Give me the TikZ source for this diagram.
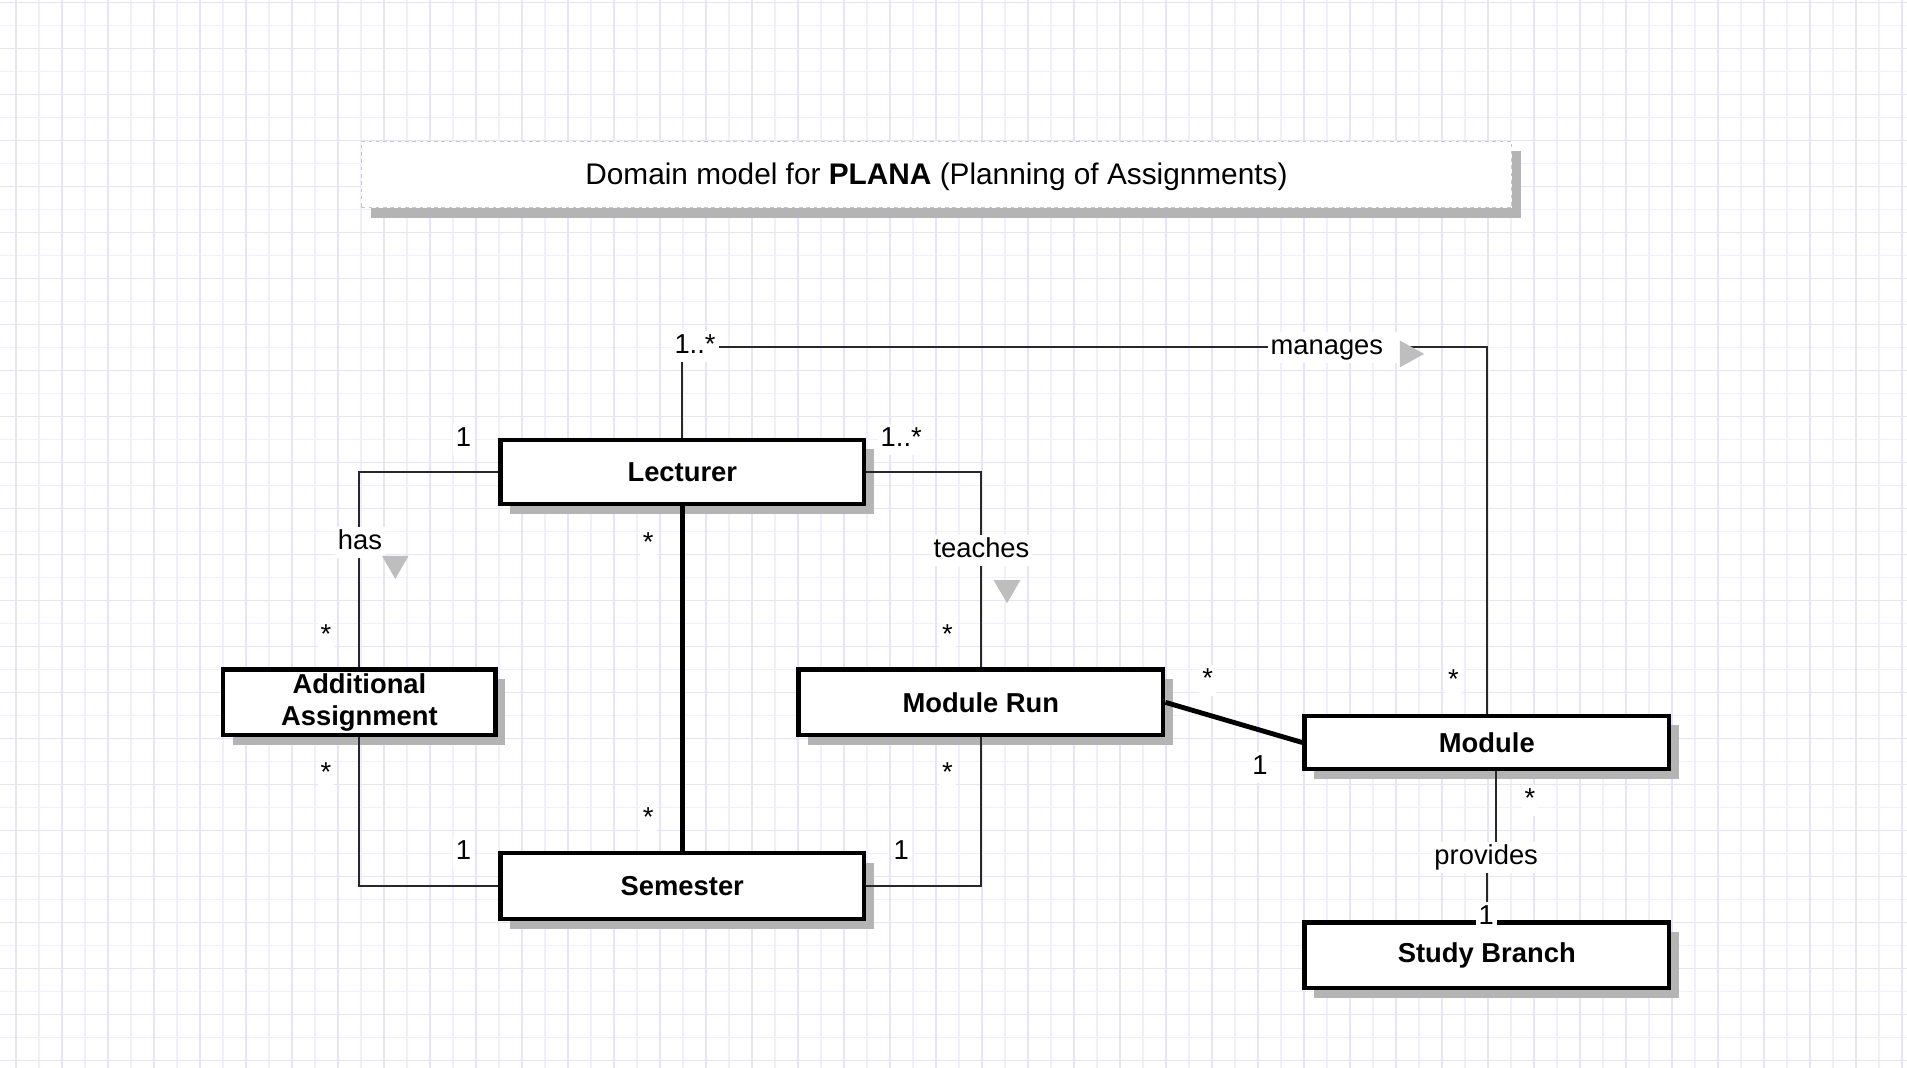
\documentclass[tikz,border=0pt]{standalone}
\usepackage{fontspec}
\setmainfont{Liberation Sans}
\usetikzlibrary{shadows}
\definecolor{gmaj}{RGB}{228,228,250}
\definecolor{gmin}{RGB}{239,239,253}
\definecolor{shd}{RGB}{180,180,180}
\definecolor{tri}{RGB}{190,190,190}
\definecolor{ln}{RGB}{40,40,40}
\begin{document}
\begin{tikzpicture}[x=1pt,y=-1pt,
  cls/.style={draw=black, line width=3.5pt, fill=white, inner sep=0pt, align=center,
    font=\fontsize{22.5}{26}\selectfont\bfseries,
    drop shadow={shadow xshift=8pt, shadow yshift=-8pt, fill=shd, opacity=1}},
  titlebox/.style={draw=black!22, dash pattern=on 3pt off 3pt, line width=0.8pt, fill=white,
    minimum width=946pt, minimum height=55pt, inner sep=0pt,
    text height=18pt, text depth=1.4pt,
    font=\fontsize{24.5}{28}\selectfont,
    drop shadow={shadow xshift=8pt, shadow yshift=-8pt, fill=shd, opacity=1}},
  assoc/.style={draw=ln, line width=1.6pt},
  strongassoc/.style={draw=black, line width=4pt},
  lbl/.style={fill=white, inner sep=2.5pt, text height=16pt, text depth=4.5pt,
    font=\fontsize{22.5}{26}\selectfont},
  gridmaj/.style={draw=gmaj, line width=1.3pt},
  gridmin/.style={draw=gmin, line width=1pt},
  dirtri/.style={fill=tri}
]
\useasboundingbox (0,0) rectangle (1568,878);
\fill[white] (0,0) rectangle (1568,878);
% grid
\foreach \i in {0,...,41} {
  \draw[gridmin] ({13.16+18.91+\i*37.82},0) -- ({13.16+18.91+\i*37.82},878);
}
\foreach \i in {0,...,23} {
  \draw[gridmin] (0,{2.2+18.91+\i*37.82}) -- (1568,{2.2+18.91+\i*37.82});
}
\foreach \i in {0,...,41} {
  \draw[gridmaj] ({13.16+\i*37.82},0) -- ({13.16+\i*37.82},878);
}
\foreach \i in {0,...,23} {
  \draw[gridmaj] (0,{2.2+\i*37.82}) -- (1568,{2.2+\i*37.82});
}

% title
\node[titlebox] (title) at (770,143.5) {Domain model for \textbf{PLANA} (Planning of Assignments)};

% classes
\node[cls, minimum width=299pt, minimum height=53pt] (lect) at (561,388) {Lecturer};
\node[cls, minimum width=224pt, minimum height=54pt] (aa) at (295.5,577.5) {Additional\\Assignment};
\node[cls, minimum width=300pt, minimum height=54pt] (mr) at (806.5,577.5) {Module Run};
\node[cls, minimum width=299pt, minimum height=54pt] (sem) at (561,728.5) {Semester};
\node[cls, minimum width=300pt, minimum height=44pt] (mod) at (1222.5,610.5) {Module};
\node[cls, minimum width=300pt, minimum height=54pt] (sb) at (1222.5,785.5) {Study Branch};

% connectors
\coordinate (mtop) at (561,285);
\draw[assoc] (lect.north) -- (mtop) -| (mod.north);
\draw[assoc] (lect.west) -| (aa.north);
\draw[assoc] (lect.east) -| (mr.north);
\draw[strongassoc] (lect.south) -- (sem.north);
\draw[assoc] (aa.south) |- (sem.west);
\draw[assoc] (mr.south) |- (sem.east);
\draw[strongassoc] (mr.east) -- (mod.west);
\coordinate (pv) at (1230,702);
\draw[assoc] (mod.south -| pv) -- (pv) -| (sb.north);

% labels
\node[lbl] (l1) at (571.5,285.3) {1..*};
\node[lbl, anchor=west, text width=104pt, align=left] (lman) at (1042,286) {manages};
\node[lbl] (l2) at (1195,560.5) {*};

\node[lbl] (l3) at (381,361.3) {1};
\node[lbl] (lhas) at (296,446.3) {has};
\node[lbl] (l4) at (268,523.5) {*};

\node[lbl] (l5) at (741,361.3) {1..*};
\node[lbl] (lteach) at (807,452.3) {teaches};
\node[lbl] (l6) at (779,523.5) {*};

\node[lbl] (l7) at (533,447.5) {*};
\node[lbl] (l8) at (533,673.5) {*};

\node[lbl] (l9) at (268,636.5) {*};
\node[lbl] (l10) at (381,701.3) {1};

\node[lbl] (l11) at (779,636.5) {*};
\node[lbl] (l12) at (741,701.3) {1};

\node[lbl] (l13) at (993,559.5) {*};
\node[lbl] (l14) at (1036,631.3) {1};

\node[lbl] (l15) at (1258,658.5) {*};
\node[lbl] (lprov) at (1222,705) {provides};
\node[lbl] (l16) at (1222,754.3) {1};

% direction triangles
\fill[dirtri] (314,457) -- (336,457) -- (325,476) -- cycle;
\fill[dirtri] (817,477) -- (839,477) -- (828,496) -- cycle;
\fill[dirtri] (1151,280) -- (1151,302) -- (1171,291) -- cycle;
\end{tikzpicture}
\end{document}
